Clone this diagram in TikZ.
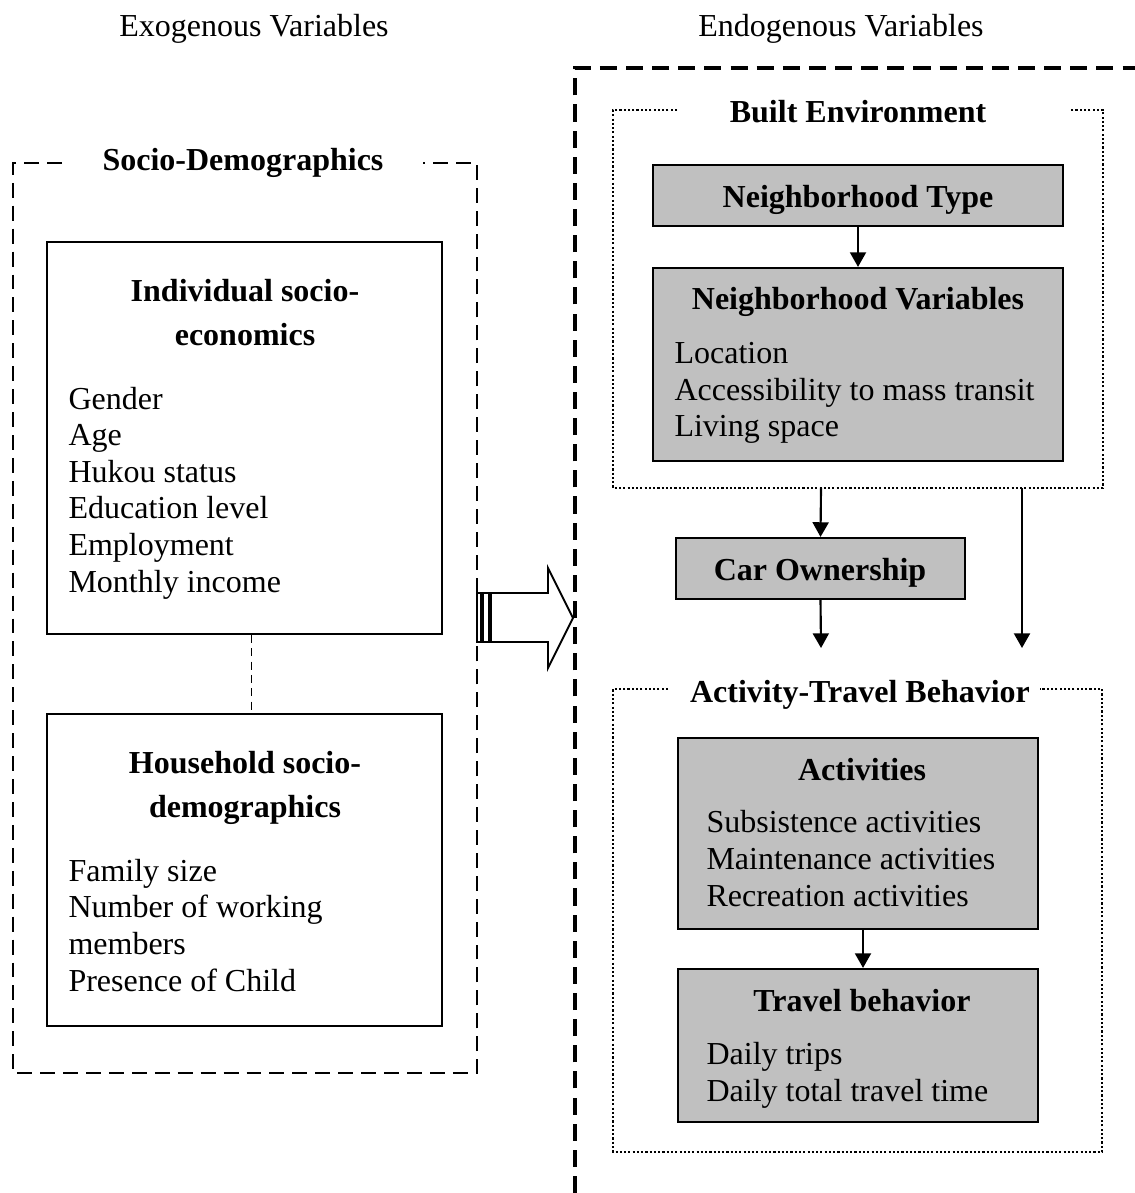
\documentclass[tikz,border=0pt]{standalone}
\usepackage{fontspec}
\setmainfont{Liberation Serif}
\usetikzlibrary{arrows.meta,fit,calc}
\definecolor{boxgray}{HTML}{C0C0C0}

\begin{document}
\begin{tikzpicture}[x=0.375pt,y=-0.375pt,
    every node/.style={font=\fontsize{12}{13.72}\selectfont, inner sep=0pt},
    whitebox/.style={draw, line width=0.65pt},
    graybox/.style={draw, line width=0.8pt, fill=boxgray},
    boxtitle/.style={font=\fontsize{12}{16.5}\selectfont\bfseries, align=center, anchor=base},
    itemlist/.style={align=left, anchor=base west},
    sideframe/.style={line width=1.1pt, dash pattern=on 5.6pt off 3pt},
    bigframe/.style={line width=1.15pt, dash pattern=on 6.4pt off 3.4pt},
    groupframe/.style={line width=0.8pt, dash pattern=on 0.8pt off 0.8pt},
    link/.style={-{Triangle[width=6pt,length=5.5pt]}, line width=0.8pt}]
\useasboundingbox (0,0) rectangle (1135,1193);

% Headings
\node[anchor=base] (exo) at (254,37) {Exogenous Variables};
\node[anchor=base] (endo) at (841,37) {Endogenous Variables};

% Left group: socio-demographics
% (multi-line nodes sit on the baseline of their last line)
\draw[sideframe] (62,163) -- (13,163) -- (13,1073) -- (477,1073) -- (477,163) -- (423,163);
\node[boxtitle] (sdtitle) at (243,171) {Socio-Demographics};

\node[whitebox, fit={(47,242) (442,634)}] (indiv) {};
\node[boxtitle] (indivtitle) at (245,346) {Individual socio-\\economics};
\node[itemlist] (indivlist) at (68,592) {Gender\\Age\\Hukou status\\Education level\\Employment\\Monthly income};

\node[whitebox, fit={(47,714) (442,1026)}] (house) {};
\node[boxtitle] (housetitle) at (245,817) {Household socio-\\demographics};
\node[itemlist] (houselist) at (68,991) {Family size\\Number of working\\members\\Presence of Child};

\draw[line width=0.6pt, dash pattern=on 3pt off 2pt] ($(indiv.south)+(7,0)$) -- ($(house.north)+(7,0)$);

% Striped block arrow
\draw[line width=0.7pt, fill=white] (491,593) -- (548,593) -- (548,568) -- (573,618) -- (548,668) -- (548,642) -- (491,642) -- cycle;
\draw[line width=0.7pt, fill=white] (477,593) rectangle (481,642);
\draw[line width=0.7pt, fill=white] (483,593) rectangle (489,642);

% Right group
\draw[bigframe] (575,1193) -- (575,68) -- (1135,68);

% Built environment
\draw[groupframe] (677,110) -- (613,110) -- (613,488) -- (1103,488) -- (1103,110) -- (1071,110);
\node[boxtitle] (betitle) at (858,123) {Built Environment};

\node[graybox, fit={(653,165) (1063,226)}] (ntype) {};
\node[boxtitle] (ntypetitle) at (858,208) {Neighborhood Type};

\node[graybox, fit={(653,268) (1063,461)}] (nvar) {};
\node[boxtitle] (nvartitle) at (858,310) {Neighborhood Variables};
\node[itemlist] (nvarlist) at (674,437) {Location\\Accessibility to mass transit\\Living space};

\draw[link] (ntype) -- (nvar);

% Car ownership
\coordinate (be1) at (821,488);
\coordinate (be2) at (1022,488);
\coordinate (atb1) at (821,648);
\coordinate (atb2) at (1022,648);
\node[graybox, fit={(676,538) (965,599)}] (car) {};
\node[boxtitle] (cartitle) at (820,580) {Car Ownership};

\draw[link] (be1) -- (car.north);
\draw[link] (car.south) -- (atb1);
\draw[link] (be2) -- (atb2);

% Activity-travel behavior
\draw[groupframe] (668,689) -- (613,689) -- (613,1152) -- (1102,1152) -- (1102,689) -- (1040,689);
\node[boxtitle] (atbtitle) at (860,702) {Activity-Travel Behavior};

\node[graybox, fit={(678,738) (1038,929)}] (acts) {};
\node[boxtitle] (actstitle) at (862,780) {Activities};
\node[itemlist] (actslist) at (706,906) {Subsistence activities\\Maintenance activities\\Recreation activities};

\node[graybox, fit={(678,969) (1038,1122)}] (travel) {};
\node[boxtitle] (traveltitle) at (862,1011) {Travel behavior};
\node[itemlist] (travellist) at (706,1101) {Daily trips\\Daily total travel time};

\draw[link] ($(acts.south)+(5,0)$) -- ($(travel.north)+(5,0)$);
\end{tikzpicture}
\end{document}
